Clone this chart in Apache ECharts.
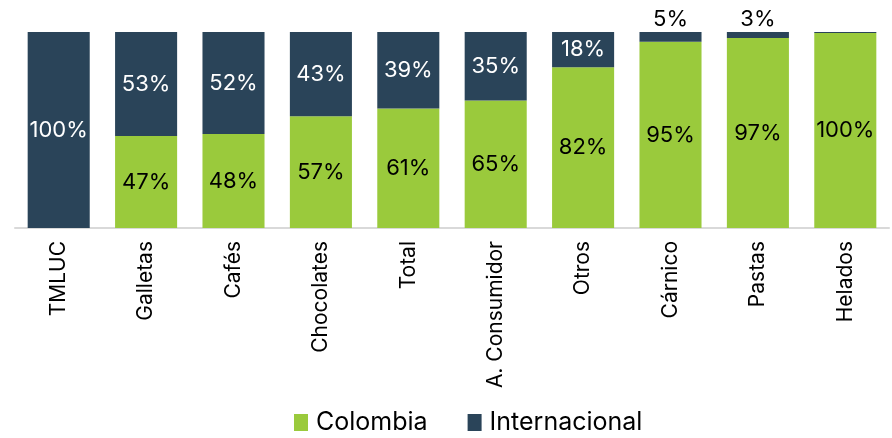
<!DOCTYPE html>
<html>
<head>
<meta charset="utf-8">
<script src="https://cdn.jsdelivr.net/npm/echarts@6/dist/echarts.min.js"></script>
<style>html,body{margin:0;padding:0;background:#fff}#c{width:892px;height:438px}</style>
</head>
<body>
<div id="c"></div>
<script>
const categories = ['TMLUC','Galletas','Cafés','Chocolates','Total','A. Consumidor','Otros','Cárnico','Pastas','Helados'];
const colombia = [0, 47, 48, 57, 61, 65, 82, 95, 97, 99.5];
const internacional = [100, 53, 52, 43, 39, 35, 18, 5, 3, 0.5];

const FONT = 'Inter';
const GREEN = '#9aca3c';
const NAVY = '#2a4459';

function mkData(vals, textColor) {
  return vals.map(v => {
    if (v < 1) return { value: v, label: { show: false } };
    if (v < 10) return { value: v, label: { show: true, position: 'top', color: '#000', distance: 2 } };
    return { value: v, label: { show: true, position: 'inside', color: textColor } };
  });
}

const chart = echarts.init(document.getElementById('c'));
chart.setOption({
  animation: false,
  textStyle: { fontFamily: FONT },
  grid: { left: 15, right: 3, top: 32, bottom: 210, containLabel: false },
  legend: {
    bottom: -2,
    left: 289,
    itemWidth: 14,
    itemHeight: 17,
    itemGap: 40,
    icon: 'rect',
    textStyle: { fontFamily: FONT, fontSize: 25, color: '#000', padding: [0, 0, 0, 3] },
    data: ['Colombia', 'Internacional']
  },
  xAxis: {
    type: 'category',
    data: categories,
    axisLine: { lineStyle: { color: '#d9d9d9', width: 2 } },
    axisTick: { show: false },
    axisLabel: { rotate: 90, interval: 0, margin: 13, fontFamily: FONT, fontSize: 21, color: '#000' }
  },
  yAxis: {
    type: 'value', min: 0, max: 100,
    show: false,
    splitLine: { show: false }
  },
  series: [
    {
      name: 'Colombia', type: 'bar', stack: 's',
      barCategoryGap: '29%',
      itemStyle: { color: GREEN },
      label: { fontFamily: FONT, fontSize: 22, formatter: p => Math.round(p.value) + '%' },
      data: mkData(colombia, '#000')
    },
    {
      name: 'Internacional', type: 'bar', stack: 's',
      itemStyle: { color: NAVY },
      label: { fontFamily: FONT, fontSize: 22, formatter: p => Math.round(p.value) + '%' },
      data: mkData(internacional, '#fff')
    }
  ]
});
</script>
</body>
</html>
